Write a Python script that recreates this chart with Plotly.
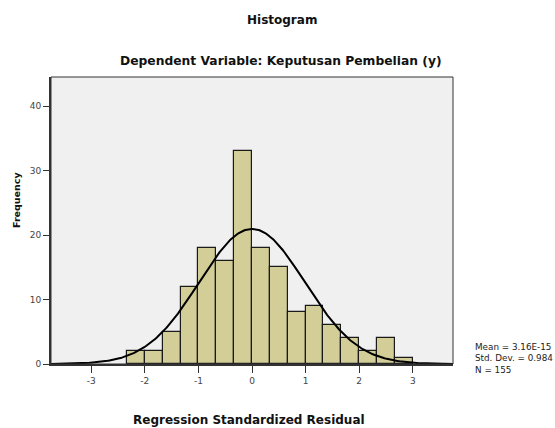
import numpy as np
import plotly.graph_objects as go

# Histogram data (bin width 1/3)
bin_start = -7/3
bin_width = 1/3
counts = [2, 2, 5, 12, 18, 16, 33, 18, 15, 8, 9, 6, 4, 2, 4, 1]
x_ticks = [-3, -2, -1, 0, 1, 2, 3]
x_tick_labels = ["-3", "-2", "-1", "0", "1", "2", "3"]
y_ticks = [0, 10, 20, 30, 40]
mean_val = 3.16e-15
std_val = 0.984
n_val = 155

centers = [bin_start + bin_width * (i + 0.5) for i in range(len(counts))]

xs = np.linspace(-3.75, 3.75, 400)
ys = n_val * bin_width / (std_val * np.sqrt(2 * np.pi)) * np.exp(-0.5 * ((xs - mean_val) / std_val) ** 2)

fig = go.Figure()
fig.add_trace(go.Bar(
    x=centers, y=counts, width=bin_width,
    marker=dict(color="#d3ce98", line=dict(color="#1a1a1a", width=1.2)),
    hoverinfo="x+y",
))
fig.add_trace(go.Scatter(x=xs, y=ys, mode="lines", line=dict(color="black", width=2), hoverinfo="skip"))

font_family = "DejaVu Sans, sans-serif"
W, H = 555, 428
L, T = 51, 77
PW, PH = 402, 287
fig.update_layout(
    width=W, height=H,
    margin=dict(l=L, r=W - L - PW, t=T, b=H - T - PH),
    paper_bgcolor="white", plot_bgcolor="#f0f0f0",
    showlegend=False, bargap=0,
    font=dict(family=font_family, size=8, color="#333333"),
    xaxis=dict(range=[-3.75, 3.75], tickvals=x_ticks, ticktext=x_tick_labels, ticks="outside", ticklen=7,
               tickcolor="#333333", showgrid=False, zeroline=False, showline=True, linecolor="#333333",
               linewidth=2, mirror=False, tickfont=dict(size=9, color="#444444")),
    yaxis=dict(range=[0, 44.5], tickvals=y_ticks, ticks="outside", ticklen=6, tickcolor="#333333",
               showgrid=False, zeroline=False, showline=True, linecolor="#333333", linewidth=2,
               tickfont=dict(size=9, color="#444444")),
    shapes=[dict(type="rect", xref="paper", yref="paper", x0=0, y0=0, x1=1, y1=1,
                 line=dict(color="#333333", width=1), layer="above")],
    annotations=[
        dict(text="<b>Histogram</b>", xref="paper", yref="paper", x=(282-L)/PW, y=1 + (T-20)/PH,
             showarrow=False, font=dict(size=12, color="#111111"), xanchor="center", yanchor="middle"),
        dict(text="<b>Dependent Variable: Keputusan Pembelian (y)</b>", xref="paper", yref="paper",
             x=(281-L)/PW, y=1 + (T-61)/PH, showarrow=False, font=dict(size=12.3, color="#111111"),
             xanchor="center", yanchor="middle"),
        dict(text="<b>Frequency</b>", xref="paper", yref="paper", x=-(L-16)/PW, y=(364-200)/PH,
             textangle=-90, showarrow=False, font=dict(size=9.5, color="#111111"),
             xanchor="center", yanchor="middle"),
        dict(text="<b>Regression Standardized Residual</b>", xref="paper", yref="paper",
             x=(249-L)/PW, y=-(420-364)/PH, showarrow=False, font=dict(size=12, color="#111111"),
             xanchor="center", yanchor="middle"),
        dict(text=f"Mean = {mean_val:.2E}<br>Std. Dev. = {std_val}<br>N = {n_val}",
             xref="paper", yref="paper", x=(473-L)/PW, y=(364-358)/PH, showarrow=False, align="left",
             font=dict(size=8.8, color="#222222"), xanchor="left", yanchor="middle"),
    ],
)
fig.write_html("out.html", config={"displayModeBar": False},
               post_script="document.body.style.margin='0';document.body.style.overflow='hidden';")
